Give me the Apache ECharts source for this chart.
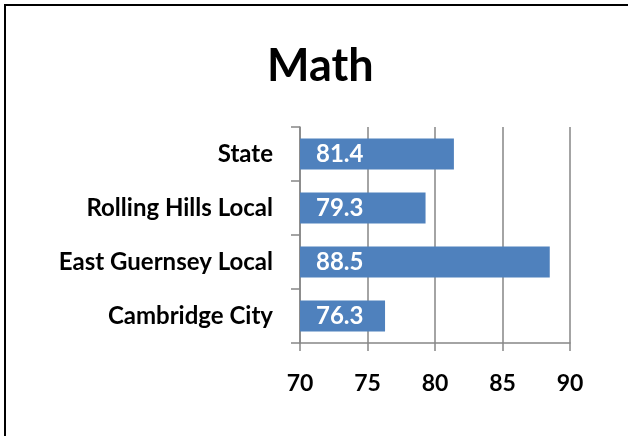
<!DOCTYPE html>
<html>
<head>
<meta charset="utf-8">
<script src="https://cdn.jsdelivr.net/npm/echarts@6/dist/echarts.min.js"></script>
<style>
html,body{margin:0;padding:0;background:#fff;}
#chart{width:628px;height:436px;}
</style>
</head>
<body>
<div id="chart"></div>
<script>
const categories = ['Cambridge City', 'East Guernsey Local', 'Rolling Hills Local', 'State'];
const values = [76.3, 88.5, 79.3, 81.4];
const xTicks = [70, 75, 80, 85, 90];

const FONT = 'Lato';
const chart = echarts.init(document.getElementById('chart'), null, {renderer: 'canvas'});
chart.setOption({
  backgroundColor: '#fff',
  animation: false,
  graphic: [{
    type: 'rect',
    shape: {x: 5, y: 5, width: 800, height: 800},
    style: {fill: 'none', stroke: '#000', lineWidth: 2},
    silent: true
  }],
  title: {
    text: 'Math',
    left: 262,
    top: 39,
    textStyle: {fontFamily: FONT, fontWeight: 'bold', fontSize: 45, color: '#000'}
  },
  grid: {left: 300, right: 58, top: 127, bottom: 93, containLabel: false},
  xAxis: {
    type: 'value',
    min: xTicks[0],
    max: xTicks[xTicks.length - 1],
    interval: 5,
    axisLine: {show: true, lineStyle: {color: '#868686', width: 1.5}},
    axisTick: {show: true, length: 8, lineStyle: {color: '#868686', width: 1.5}},
    splitLine: {show: true, lineStyle: {color: '#868686', width: 1.5}},
    axisLabel: {margin: 29, color: '#000', fontFamily: FONT, fontWeight: 'bold', fontSize: 23}
  },
  yAxis: {
    type: 'category',
    data: categories,
    axisLine: {show: true, lineStyle: {color: '#868686', width: 1.5}},
    axisTick: {show: true, length: 9, alignWithLabel: false, lineStyle: {color: '#868686', width: 1.5}},
    axisLabel: {margin: 27, color: '#000', fontFamily: FONT, fontWeight: 'bold', fontSize: 24}
  },
  series: [{
    type: 'bar',
    data: values,
    barWidth: 31,
    itemStyle: {color: '#4F81BD'},
    label: {
      show: true,
      position: 'insideLeft',
      distance: 16,
      color: '#fff',
      fontFamily: FONT,
      fontWeight: 'bold',
      fontSize: 24,
      formatter: p => p.value.toFixed(1)
    }
  }]
});
</script>
</body>
</html>
